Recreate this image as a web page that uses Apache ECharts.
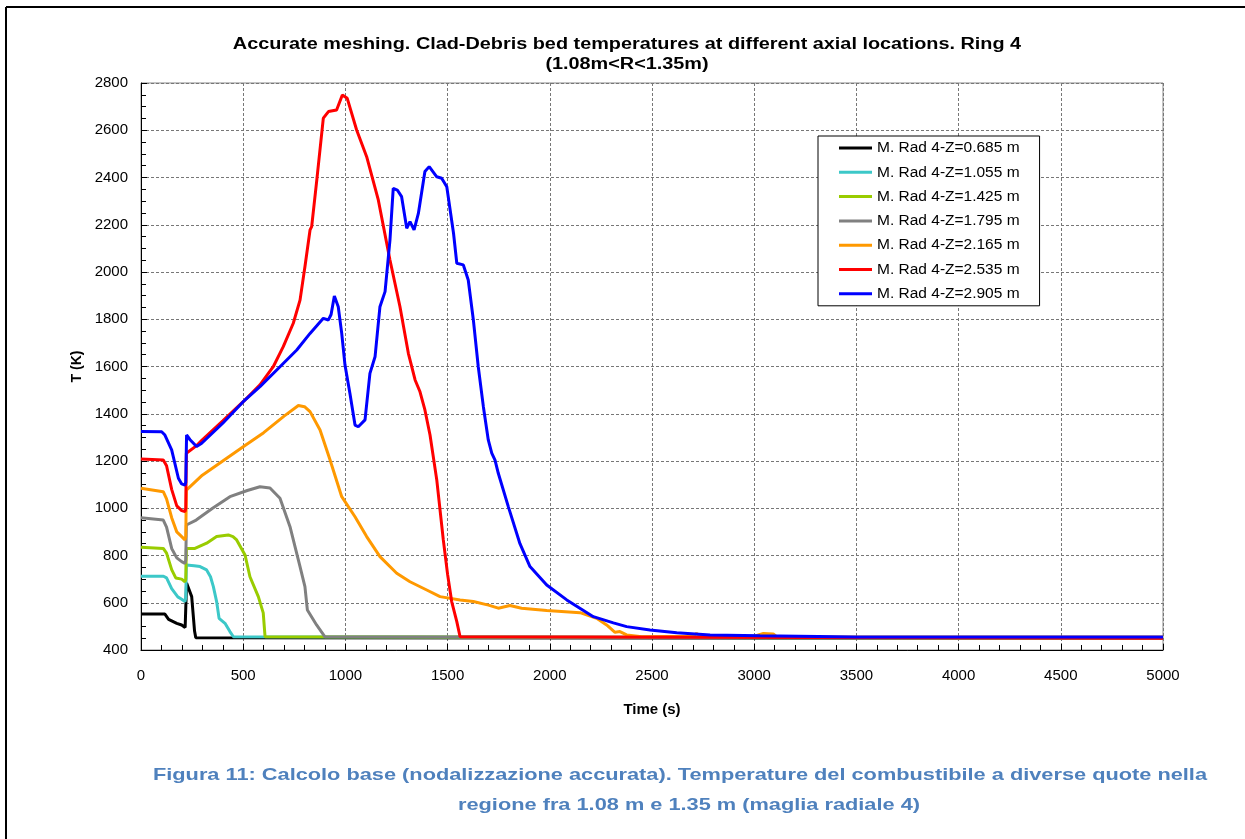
<!DOCTYPE html>
<html>
<head>
<meta charset="utf-8">
<script src="https://cdn.jsdelivr.net/npm/echarts@6/dist/echarts.min.js"></script>
<style>
  html, body { margin: 0; padding: 0; background: #fff; }
  #chart { width: 1245px; height: 839px; }
</style>
</head>
<body>
<div id="chart"></div>
<script>
// time (s) / temperature (K) pairs
var seriesNames = ['M. Rad 4-Z=0.685 m', 'M. Rad 4-Z=1.055 m', 'M. Rad 4-Z=1.425 m', 'M. Rad 4-Z=1.795 m',
    'M. Rad 4-Z=2.165 m', 'M. Rad 4-Z=2.535 m', 'M. Rad 4-Z=2.905 m'];
var seriesColors = ['#000000', '#3cc8c8', '#99cc00', '#808080', '#ff9900', '#ff0000', '#0000ff'];

var z0685 = [[0, 552], [117, 552], [135, 530], [175, 513], [199, 506], [216, 495], [219, 500], [223, 684],
    [248, 626], [262, 480], [268, 452], [275, 450], [5000, 450]];
var z1055 = [[0, 712], [110, 712], [125, 705], [150, 660], [180, 625], [199, 615], [215, 605], [219, 620],
    [222, 760], [260, 757], [289, 753], [321, 739], [340, 710], [354, 668], [370, 605], [382, 534], [411, 513],
    [435, 478], [452, 456], [460, 450], [5000, 450]];
var z1425 = [[0, 835], [109, 830], [125, 810], [150, 740], [170, 705], [199, 700], [215, 689], [219, 700],
    [222, 830], [264, 830], [321, 852], [370, 880], [427, 887], [450, 880], [468, 866], [509, 802], [533, 710],
    [574, 626], [598, 557], [607, 456], [612, 450], [5000, 450]];
var z1795 = [[0, 960], [109, 950], [125, 920], [150, 830], [175, 790], [199, 774], [215, 767], [219, 780],
    [222, 929], [270, 950], [350, 1000], [435, 1049], [520, 1075], [582, 1091], [631, 1086], [680, 1042],
    [729, 922], [778, 753], [802, 668], [814, 569], [859, 506], [900, 456], [905, 450], [5000, 450]];
var z2165 = [[0, 1085], [109, 1070], [125, 1040], [150, 960], [175, 900], [199, 880], [215, 866], [219, 880],
    [222, 1077], [300, 1140], [400, 1200], [500, 1260], [600, 1320], [700, 1390], [770, 1435], [800, 1430],
    [827, 1409], [876, 1331], [925, 1204], [982, 1049], [1047, 964], [1104, 880], [1169, 795], [1251, 725],
    [1316, 689], [1398, 654], [1463, 626], [1561, 612], [1626, 605], [1700, 590], [1748, 577], [1805, 588],
    [1862, 577], [1985, 567], [2148, 558], [2229, 534], [2278, 506], [2319, 475], [2343, 478], [2376, 464],
    [2450, 456], [2700, 458], [2718, 470], [2740, 458], [3000, 458], [3045, 470], [3093, 468], [3110, 456],
    [5000, 455]];
var z2535 = [[0, 1208], [109, 1204], [125, 1180], [150, 1080], [175, 1010], [199, 990], [215, 986], [219, 1000],
    [222, 1233], [272, 1265], [300, 1290], [400, 1370], [500, 1451], [582, 1522], [647, 1599], [696, 1684],
    [745, 1783], [778, 1881], [802, 2022], [827, 2178], [835, 2192], [860, 2389], [892, 2651], [917, 2679],
    [957, 2686], [985, 2749], [1009, 2735], [1055, 2601], [1104, 2488], [1161, 2305], [1218, 2051], [1267, 1853],
    [1308, 1656], [1341, 1543], [1365, 1493], [1389, 1416], [1414, 1310], [1447, 1120], [1479, 866], [1500, 720],
    [1520, 605], [1545, 520], [1561, 456], [1565, 450], [5000, 450]];
var z2905 = [[0, 1325], [101, 1324], [117, 1310], [150, 1247], [183, 1127], [199, 1103], [215, 1098], [219, 1110],
    [223, 1310], [240, 1290], [272, 1261], [297, 1275], [400, 1360], [500, 1451], [582, 1515], [680, 1599],
    [762, 1670], [827, 1740], [892, 1804], [917, 1797], [930, 1820], [946, 1898], [965, 1853], [982, 1740],
    [998, 1606], [1005, 1606], [1022, 1487], [1047, 1352], [1063, 1345], [1096, 1374], [1120, 1571], [1145, 1641],
    [1169, 1853], [1194, 1917], [1218, 2135], [1234, 2354], [1254, 2347], [1275, 2319], [1300, 2185], [1316, 2213],
    [1336, 2178], [1357, 2248], [1389, 2425], [1410, 2446], [1447, 2403], [1471, 2397], [1496, 2361], [1529, 2164],
    [1545, 2037], [1577, 2030], [1601, 1966], [1626, 1797], [1650, 1599], [1675, 1430], [1699, 1289], [1716, 1233],
    [1732, 1204], [1748, 1148], [1797, 1007], [1854, 850], [1903, 753], [1985, 675], [2083, 612], [2213, 541],
    [2311, 515], [2376, 499], [2490, 485], [2621, 473], [2784, 464], [3029, 460], [3500, 455], [5000, 455]];
var seriesData = [z0685, z1055, z1425, z1795, z2165, z2535, z2905];

var FONT = '"Liberation Sans", Arial, sans-serif';

var chart = echarts.init(document.getElementById('chart'));

var series = [];
for (var i = 0; i < seriesData.length; i++) {
    series.push({
        name: seriesNames[i],
        type: 'line',
        data: seriesData[i],
        symbol: 'none',
        lineStyle: { color: seriesColors[i], width: 3 },
        itemStyle: { color: seriesColors[i] }
    });
}

// plain numbers on the axes, no thousands separator
function plain(v) {
    return String(v);
}

// text block with a horizontal stretch, like the pasted figure
function stretchedText(x, y, text, font, color, sx) {
    return {
        type: 'text',
        x: x, y: y,
        scaleX: sx, scaleY: 1,
        style: {
            x: 0, y: 0, text: text,
            textAlign: 'center', textVerticalAlign: 'middle',
            font: font, fill: color
        }
    };
}

var option = {
    animation: false,
    backgroundColor: '#fff',
    textStyle: { fontFamily: FONT },
    grid: {
        left: 141, right: 82, top: 83, bottom: 189,
        show: true, borderColor: '#888', borderWidth: 1
    },
    legend: {
        orient: 'vertical',
        left: 818, top: 136,
        padding: [4, 20, 4, 21],
        icon: 'path://M0,0H33V3H0Z',
        itemWidth: 33, itemHeight: 3, itemGap: 8.3,
        borderColor: '#000', borderWidth: 1,
        backgroundColor: '#fff',
        textStyle: { fontFamily: FONT, fontSize: 15.5, color: '#000' },
        data: seriesNames
    },
    xAxis: {
        type: 'value', min: 0, max: 5000, interval: 500,
        name: 'Time (s)', nameLocation: 'middle', nameGap: 52,
        nameTextStyle: { fontFamily: FONT, fontSize: 15, fontWeight: 'bold', color: '#000' },
        axisLine: { show: true, lineStyle: { color: '#000', width: 1 } },
        axisTick: { show: true, inside: true, length: 6, lineStyle: { color: '#000' } },
        minorTick: { show: true, splitNumber: 5, length: 5, lineStyle: { color: '#000' } },
        axisLabel: { fontFamily: FONT, fontSize: 15, color: '#000', margin: 18, formatter: plain },
        splitLine: { show: true, lineStyle: { color: '#777', type: [3, 2], width: 1 } }
    },
    yAxis: {
        type: 'value', min: 400, max: 2800, interval: 200,
        name: 'T (K)', nameLocation: 'middle', nameGap: 53, nameRotate: 90,
        nameTextStyle: { fontFamily: FONT, fontSize: 14, fontWeight: 'bold', color: '#000' },
        axisLine: { show: true, lineStyle: { color: '#000', width: 1 } },
        axisTick: { show: true, inside: true, length: 6, lineStyle: { color: '#000' } },
        minorTick: { show: true, splitNumber: 4, length: 5, lineStyle: { color: '#000' } },
        axisLabel: { fontFamily: FONT, fontSize: 15, color: '#000', margin: 13, formatter: plain },
        splitLine: { show: true, lineStyle: { color: '#777', type: [3, 2], width: 1 } }
    },
    graphic: [
        // outer frame of the figure
        { type: 'line', shape: { x1: 6, y1: 7, x2: 1245, y2: 7 }, style: { stroke: '#000', lineWidth: 2 } },
        { type: 'line', shape: { x1: 6, y1: 7, x2: 6, y2: 839 }, style: { stroke: '#000', lineWidth: 2 } },
        stretchedText(627, 45, 'Accurate meshing. Clad-Debris bed temperatures at different axial locations. Ring 4',
            'bold 16px ' + FONT, '#000', 1.24),
        stretchedText(627, 65, '(1.08m<R<1.35m)', 'bold 16px ' + FONT, '#000', 1.24),
        stretchedText(680, 775,
            'Figura 11: Calcolo base (nodalizzazione accurata). Temperature del combustibile a diverse quote nella',
            'bold 17px ' + FONT, '#4f81bd', 1.28),
        stretchedText(689, 805, 'regione fra 1.08 m e 1.35 m (maglia radiale 4)', 'bold 17px ' + FONT, '#4f81bd', 1.28)
    ],
    series: series
};

chart.setOption(option);

window.addEventListener('resize', function () {
    chart.resize();
});
</script>
</body>
</html>
